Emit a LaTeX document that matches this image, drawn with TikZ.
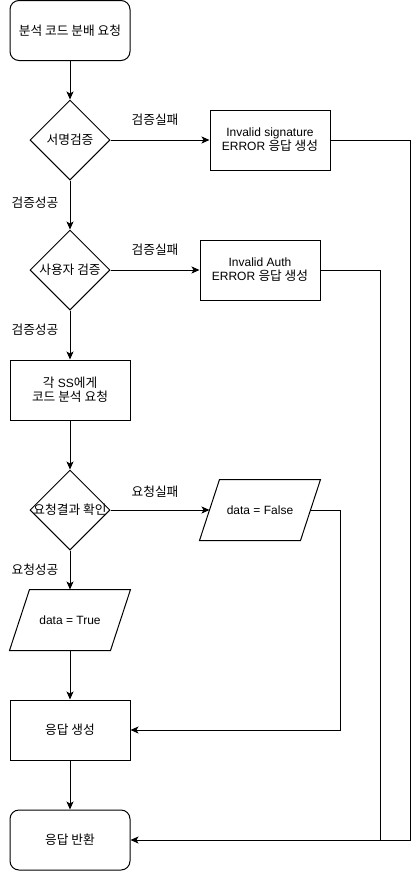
\documentclass[tikz,border=0pt]{standalone}
\usepackage{fontspec}
\setmainfont{Liberation Sans}
\newfontfamily\kr[Scale=1.06]{Noto Sans CJK KR}
\usetikzlibrary{shapes.geometric,arrows.meta,calc}
\begin{document}
\begin{tikzpicture}[x=1pt,y=-1pt,line width=1pt,
  every node/.style={font=\fontsize{12}{14}\selectfont, align=center, inner sep=0pt},
  boxr/.style={draw, rectangle, minimum width=120pt, minimum height=60pt},
  boxround/.style={boxr, rounded corners=9pt},
  boxblank/.style={rectangle, minimum width=120pt, minimum height=60pt},
  dia/.style={draw, diamond, minimum width=80pt, minimum height=80pt, inner sep=0pt},
  lbl/.style={font=\kr\fontsize{12}{14}\selectfont},
  arr/.style={-{Stealth[length=8pt,width=7pt,inset=2pt]}}]
\useasboundingbox (0,0) rectangle (419,871);
% nodes
\node[boxround] (start) at (70,30.5) {\kr 분석 코드 분배 요청};
\node[dia] (d1) at (70,140) {};
\node[lbl] (d1t) at (d1) {서명검증};
\node[boxr] (sig) at (270,140) {Invalid signature\\ERROR {\kr 응답 생성}};
\node[dia] (d2) at (70,270) {};
\node[lbl] (d2t) at (d2) {사용자 검증};
\node[boxr] (auth) at (260,270) {Invalid Auth\\ERROR {\kr 응답 생성}};
\node[boxr] (req) at (70,390) {{\kr 각} SS{\kr 에게}\\{\kr 코드 분석 요청}};
\node[dia] (d3) at (70,510) {};
\node[lbl] (d3t) at (d3) {요청결과 확인};
\node[boxblank] (pf) at (260,510) {data = False};
\draw (pf.south west) -- ($(pf.north west)+(20,0)$) -- (pf.north east) -- ($(pf.south east)+(-20,0)$) -- cycle;
\node[boxblank] (pt) at (70,620) {data = True};
\draw (pt.south west) -- ($(pt.north west)+(20,0)$) -- (pt.north east) -- ($(pt.south east)+(-20,0)$) -- cycle;
\node[boxr] (gen) at (70,730) {\kr 응답 생성};
\node[boxround] (ret) at (70,840) {\kr 응답 반환};
% labels
\node[lbl] (l1) at (155,120) {검증실패};
\node[lbl] (l2) at (35,203) {검증성공};
\node[lbl] (l3) at (155,250) {검증실패};
\node[lbl] (l4) at (35,330) {검증성공};
\node[lbl] (l5) at (155,492) {요청실패};
\node[lbl] (l6) at (35,570) {요청성공};
% connectors
\draw[arr] (start) -- (d1);
\draw[arr] (d1) -- (d2);
\draw[arr] (d2) -- (req);
\draw[arr] (req) -- (d3);
\draw[arr] (d3) -- (pt.north);
\draw[arr] (pt.south) -- (gen);
\draw[arr] (gen) -- (ret);
\draw[arr] (d1.east) -- (sig.west);
\draw[arr] (d2.east) -- (auth.west);
\coordinate (pfl) at ($(pf.west)+(10,0)$);
\coordinate (pfr) at ($(pf.east)+(-10,0)$);
\draw[arr] (d3.east) -- (pfl);
\coordinate (k1) at (410,140);
\coordinate (k2) at (380,270);
\coordinate (k3) at (340,510);
\draw[arr] (sig.east) -- (k1) |- (ret.east);
\draw (auth.east) -- (k2) -- (k2 |- ret.east);
\draw[arr] (pfr) -- (k3) |- (gen.east);
\end{tikzpicture}
\end{document}
